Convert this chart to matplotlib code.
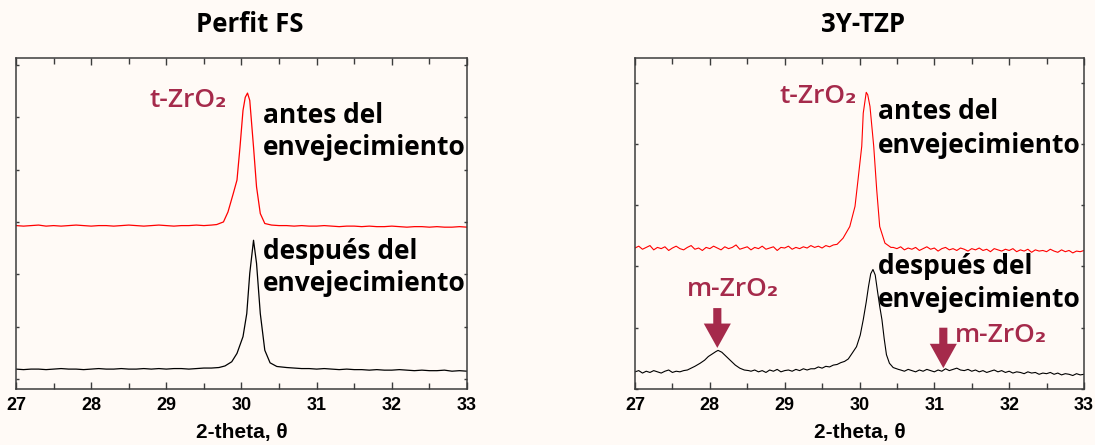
import numpy as np
import matplotlib
matplotlib.use("Agg")
import matplotlib.pyplot as plt

# ---- data (arbitrary intensity units) ----
titles = ["Perfit FS", "3Y-TZP"]
xticks = [27, 28, 29, 30, 31, 32, 33]

# Perfit FS, before ageing (red)
pf_before_peak_x = [29.67, 29.76, 29.82, 29.89, 29.94, 29.98, 30.02, 30.05, 30.08,
                    30.11, 30.16, 30.20, 30.25, 30.31, 30.40]
pf_before_peak_y = [2.95, 3.00, 3.19, 3.54, 3.80, 4.43, 5.13, 5.38, 5.46,
                    5.32, 4.43, 3.67, 3.16, 2.97, 2.94]
pf_before_base1 = [2.93, 2.92, 2.93, 2.94, 2.92, 2.93, 2.92, 2.93, 2.94, 2.93,
                   2.92, 2.93, 2.93, 2.92, 2.93, 2.94, 2.93, 2.92, 2.93, 2.94,
                   2.93, 2.92, 2.93, 2.93, 2.94, 2.93, 2.94]
pf_before_base2 = [2.93, 2.93, 2.92, 2.93, 2.92, 2.92, 2.93, 2.92, 2.91, 2.92,
                   2.92, 2.91, 2.92, 2.91, 2.91, 2.92, 2.91, 2.90, 2.91, 2.91,
                   2.90, 2.91, 2.90, 2.90, 2.91, 2.90]

# Perfit FS, after ageing (black)
pf_after_peak_x = [29.70, 29.78, 29.87, 29.94, 30.02, 30.07, 30.11, 30.16, 30.20,
                   30.25, 30.31, 30.38, 30.47]
pf_after_peak_y = [0.22, 0.25, 0.33, 0.49, 0.81, 1.25, 2.02, 2.65, 2.21,
                   1.25, 0.55, 0.31, 0.24]
pf_after_base1 = [0.19, 0.18, 0.19, 0.19, 0.18, 0.19, 0.20, 0.19, 0.19, 0.18,
                  0.19, 0.20, 0.19, 0.19, 0.20, 0.19, 0.19, 0.20, 0.19, 0.20,
                  0.19, 0.20, 0.20, 0.19, 0.20, 0.21, 0.21]
pf_after_base2 = [0.22, 0.21, 0.20, 0.20, 0.19, 0.20, 0.19, 0.18, 0.19, 0.18,
                  0.18, 0.17, 0.18, 0.17, 0.17, 0.18, 0.17, 0.16, 0.17, 0.16,
                  0.16, 0.17, 0.15, 0.16, 0.15]

# 3Y-TZP, before ageing (red), baselines every 0.05
tz_before_base1 = [2.30, 2.33, 2.28, 2.31, 2.34, 2.27, 2.31, 2.29, 2.32, 2.26,
                   2.30, 2.33, 2.29, 2.27, 2.31, 2.34, 2.28, 2.30, 2.26, 2.31,
                   2.29, 2.33, 2.30, 2.27, 2.32, 2.29, 2.31, 2.35, 2.28, 2.30,
                   2.32, 2.27, 2.31, 2.29, 2.33, 2.28, 2.30, 2.32, 2.26, 2.31,
                   2.30, 2.33, 2.28, 2.31, 2.29, 2.32, 2.30, 2.34, 2.31, 2.33,
                   2.30, 2.34, 2.32, 2.35]
tz_before_peak_x = [29.70, 29.78, 29.87, 29.94, 29.98, 30.03, 30.05, 30.09, 30.11,
                    30.14, 30.19, 30.23, 30.27, 30.34, 30.42]
tz_before_peak_y = [2.36, 2.46, 2.65, 2.98, 3.41, 3.96, 4.50, 4.84, 4.80,
                    4.61, 3.96, 3.25, 2.65, 2.38, 2.31]
tz_before_base2 = [2.31, 2.29, 2.32, 2.27, 2.30, 2.28, 2.31, 2.26, 2.29, 2.32,
                   2.28, 2.30, 2.25, 2.29, 2.31, 2.27, 2.29, 2.26, 2.30, 2.28,
                   2.25, 2.29, 2.27, 2.30, 2.26, 2.28, 2.24, 2.29, 2.27, 2.25,
                   2.28, 2.26, 2.29, 2.24, 2.27, 2.25, 2.28, 2.23, 2.27, 2.25,
                   2.26, 2.24, 2.28, 2.25, 2.23, 2.27, 2.24, 2.26, 2.22, 2.25,
                   2.24, 2.26]

# 3Y-TZP, after ageing (black) -- monoclinic peaks near 28.1 and 31.2
tz_after_base1 = [0.28, 0.30, 0.26, 0.29, 0.27, 0.30, 0.28, 0.26, 0.29, 0.31,
                  0.27, 0.29, 0.28, 0.30]
tz_after_m_x = [27.70, 27.75, 27.80, 27.87, 27.93, 27.98, 28.03, 28.08, 28.11,
                28.16, 28.22, 28.28, 28.34, 28.40, 28.46, 28.52]
tz_after_m_y = [0.31, 0.34, 0.37, 0.42, 0.47, 0.53, 0.57, 0.61, 0.63,
                0.60, 0.53, 0.46, 0.39, 0.34, 0.31, 0.30]
tz_after_base2 = [0.29, 0.31, 0.28, 0.30, 0.27, 0.31, 0.29, 0.32, 0.28, 0.30,
                  0.31, 0.29, 0.32, 0.30, 0.33, 0.31, 0.33]
tz_after_t_x = [29.40, 29.45, 29.50, 29.55, 29.60, 29.65, 29.70, 29.75, 29.80,
                29.85, 29.90, 29.96, 30.01, 30.05, 30.09, 30.12, 30.15, 30.18,
                30.21, 30.24, 30.27, 30.30, 30.33, 30.36, 30.40, 30.45, 30.52]
tz_after_t_y = [0.33, 0.36, 0.34, 0.37, 0.36, 0.39, 0.40, 0.43, 0.45,
                0.49, 0.58, 0.69, 0.88, 1.13, 1.42, 1.67, 1.88, 1.95,
                1.86, 1.60, 1.35, 1.13, 0.82, 0.56, 0.42, 0.35, 0.32]
tz_after_base3 = [0.31, 0.29, 0.32, 0.30, 0.28, 0.31, 0.29, 0.32, 0.30, 0.28,
                  0.31, 0.29, 0.33, 0.30, 0.32, 0.34, 0.31, 0.30, 0.32, 0.29,
                  0.31, 0.28, 0.30, 0.27, 0.29, 0.31, 0.28, 0.30, 0.27, 0.29,
                  0.26, 0.28, 0.27, 0.25, 0.28, 0.26, 0.27, 0.24, 0.26, 0.25,
                  0.27, 0.24, 0.26, 0.23, 0.25, 0.24, 0.22, 0.25, 0.23, 0.24]


def grid(a, b, step=0.1):
    return np.round(np.arange(a, b + step / 2, step), 2)


pf_before_x = np.concatenate([grid(27.0, 29.6), pf_before_peak_x, grid(30.5, 33.0)])
pf_before_y = np.concatenate([pf_before_base1, pf_before_peak_y, pf_before_base2])
pf_after_x = np.concatenate([grid(27.0, 29.6), pf_after_peak_x, grid(30.6, 33.0)])
pf_after_y = np.concatenate([pf_after_base1, pf_after_peak_y, pf_after_base2])
tz_before_x = np.concatenate([grid(27.0, 29.65, 0.05), tz_before_peak_x,
                              grid(30.45, 33.0, 0.05)])
tz_before_y = np.concatenate([tz_before_base1, tz_before_peak_y, tz_before_base2])
tz_after_x = np.concatenate([grid(27.0, 27.65, 0.05), tz_after_m_x,
                             grid(28.55, 29.35, 0.05), tz_after_t_x,
                             grid(30.55, 33.0, 0.05)])
tz_after_y = np.concatenate([tz_after_base1, tz_after_m_y, tz_after_base2,
                             tz_after_t_y, tz_after_base3])

# ---- figure ----
bg = "#fffaf6"
wine = "#a52a4b"
txt_font = ["Open Sans", "DejaVu Sans"]

fig = plt.figure(figsize=(10.95, 4.45), dpi=100, facecolor=bg)
ax1 = fig.add_axes([16 / 1095, 56 / 445, 451 / 1095, 331 / 445])
ax2 = fig.add_axes([635 / 1095, 56 / 445, 449 / 1095, 331 / 445])

ax1.plot(pf_before_x, pf_before_y, color="red", lw=0.9)
ax1.plot(pf_after_x, pf_after_y, color="black", lw=0.9)
ax2.plot(tz_before_x, tz_before_y, color="red", lw=0.8)
ax2.plot(tz_after_x, tz_after_y, color="black", lw=0.8)

ax1.set_yticks(np.arange(0, 7, 1))
ax2.set_yticks(np.arange(0, 6, 1))
ax1.set_ylim(-0.19, 6.13)
ax2.set_ylim(0, 5.4)

for ax in (ax1, ax2):
    ax.set_facecolor(bg)
    ax.set_xlim(27, 33)
    ax.set_xticks(xticks)
    ax.set_xticks(np.arange(27.5, 33, 1.0), minor=True)
    ax.set_yticklabels([])
    for s in ax.spines.values():
        s.set_color("#3c3c3c")
        s.set_linewidth(1.1)
    ax.tick_params(axis="x", which="both", direction="in", top=True,
                   labelsize=13, pad=6, colors="#3c3c3c", labelcolor="black")
    ax.tick_params(axis="x", which="major", length=5, width=1)
    ax.tick_params(axis="x", which="minor", length=4, width=1)
    ax.tick_params(axis="y", direction="in", right=True, length=2.5,
                   width=1, colors="#3c3c3c")
    for lab in ax.get_xticklabels():
        lab.set_fontfamily("Liberation Sans")
        lab.set_fontweight("bold")
    ax.set_xlabel("2-theta, θ", fontsize=15, fontweight="bold",
                  family=["Liberation Sans", "DejaVu Sans"], labelpad=6)

# titles
fig.text(250 / 1095, 1 - 25 / 445, titles[0], ha="center", va="center",
         fontsize=18.5, fontweight="bold", family=txt_font)
fig.text(863 / 1095, 1 - 25 / 445, titles[1], ha="center", va="center",
         fontsize=18.5, fontweight="bold", family=txt_font)

# annotations
ann = dict(fontsize=19, fontweight="bold", family=txt_font, ha="left", va="center")
ax1.text(30.286, 5.04, "antes del", **ann)
ax1.text(30.286, 4.43, "envejecimiento", **ann)
ax1.text(30.286, 2.44, "después del", **ann)
ax1.text(30.286, 1.83, "envejecimiento", **ann)
ax2.text(30.25, 4.52, "antes del", **ann)
ax2.text(30.25, 3.98, "envejecimiento", **ann)
ax2.text(30.25, 2.00, "después del", **ann)
ax2.text(30.25, 1.46, "envejecimiento", **ann)

lab = dict(fontsize=19, color=wine, family=txt_font, fontweight="semibold",
           va="center")
ax1.text(29.81, 5.32, "t-ZrO₂", ha="right", **lab)
ax2.text(29.96, 4.77, "t-ZrO₂", ha="right", **lab)
ax2.text(27.69, 1.62, "m-ZrO₂", ha="left", **lab)
ax2.text(31.27, 0.88, "m-ZrO₂", ha="left", **lab)

arrow = dict(arrowstyle="simple,head_width=1.5,head_length=1.35,tail_width=0.45",
             color=wine, lw=0, shrinkA=0, shrinkB=0, mutation_scale=13)
ax2.annotate("", xy=(28.1, 0.67), xytext=(28.1, 1.32), arrowprops=arrow)
ax2.annotate("", xy=(31.12, 0.34), xytext=(31.12, 1.0), arrowprops=arrow)

fig.savefig("out.png", dpi=100, facecolor=bg)
